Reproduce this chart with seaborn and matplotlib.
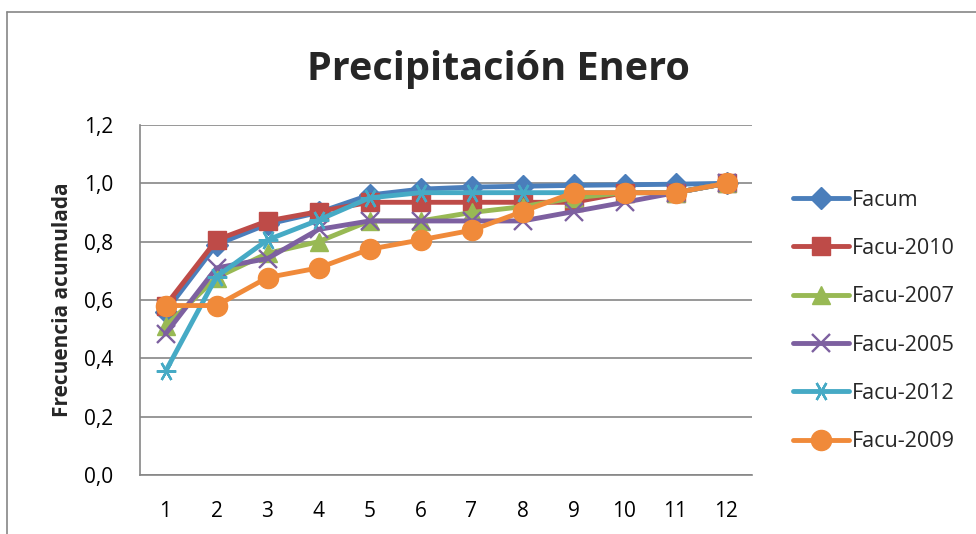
import matplotlib
matplotlib.use("Agg")
import matplotlib.pyplot as plt
from matplotlib.lines import Line2D
import seaborn as sns
import pandas as pd

# Cumulative frequency of January precipitation by class
classes = [1, 2, 3, 4, 5, 6, 7, 8, 9, 10, 11, 12]
facum = [0.56, 0.79, 0.86, 0.90, 0.96, 0.98, 0.987, 0.99, 0.993, 0.995, 0.997, 1.0]
facu_2010 = [0.581, 0.806, 0.871, 0.903, 0.935, 0.935, 0.935, 0.935, 0.935, 0.968, 0.968, 1.0]
facu_2007 = [0.51, 0.677, 0.76, 0.80, 0.871, 0.871, 0.90, 0.92, 0.95, 0.968, 0.968, 1.0]
facu_2005 = [0.484, 0.71, 0.742, 0.842, 0.871, 0.871, 0.871, 0.871, 0.903, 0.935, 0.968, 1.0]
facu_2012 = [0.355, 0.68, 0.806, 0.874, 0.95, 0.968, 0.968, 0.968, 0.968, 0.968, 0.968, 1.0]
facu_2009 = [0.581, 0.581, 0.677, 0.71, 0.774, 0.806, 0.839, 0.903, 0.968, 0.968, 0.968, 1.0]

series_names = ["Facum", "Facu-2010", "Facu-2007", "Facu-2005", "Facu-2012", "Facu-2009"]
series_values = [facum, facu_2010, facu_2007, facu_2005, facu_2012, facu_2009]
y_ticks = [0.0, 0.2, 0.4, 0.6, 0.8, 1.0, 1.2]
y_tick_labels = ["0,0", "0,2", "0,4", "0,6", "0,8", "1,0", "1,2"]

colors = ["#4A7EBB", "#BE4B48", "#98B954", "#7D60A0", "#46AAC5", "#F08A3A"]
markers = ["D", "s", "^", "x", (6, 2, 90), "o"]
marker_sizes = [11, 13, 13, 13, 14, 14.5]
edge_widths = [1, 1, 1, 1.7, 1.7, 1]

rows = []
for name, vals in zip(series_names, series_values):
    for c, v in zip(classes, vals):
        rows.append({"Clase": c, "Frecuencia": v, "Serie": name})
df = pd.DataFrame(rows)

sns.set_theme(style="white")
plt.rcParams["font.family"] = ["Open Sans", "DejaVu Sans"]

fig = plt.figure(figsize=(9.76, 5.34), dpi=100)
ax = fig.add_axes([140 / 976, 59 / 534, 612 / 976, 350 / 534])

handles = []
for i, name in enumerate(series_names):
    sub = df[df["Serie"] == name]
    sns.lineplot(data=sub, x="Clase", y="Frecuencia", ax=ax, color=colors[i],
                 linewidth=3.5, marker=markers[i], markersize=marker_sizes[i],
                 markeredgewidth=edge_widths[i], markeredgecolor=colors[i],
                 label=name, legend=False)
    handles.append(Line2D([0], [0], color=colors[i], linewidth=3.5,
                          marker=markers[i], markersize=marker_sizes[i],
                          markeredgewidth=edge_widths[i], markeredgecolor=colors[i]))

ax.set_xlim(0.5, 12.5)
ax.set_ylim(0, 1.2)
ax.set_xticks(classes)
ax.set_xticklabels([str(c) for c in classes], fontsize=15)
ax.set_yticks(y_ticks)
ax.set_yticklabels(y_tick_labels, fontsize=15)
ax.tick_params(axis="x", length=0, pad=19, colors="black")
ax.tick_params(axis="y", length=0, pad=19, colors="black")
ax.yaxis.grid(True, color="#868686", linewidth=1.2)
ax.xaxis.grid(False)
for side in ["top", "right"]:
    ax.spines[side].set_visible(False)
for side in ["left", "bottom"]:
    ax.spines[side].set_color("#868686")
    ax.spines[side].set_linewidth(1.2)
ax.set_xlabel("")
ax.set_ylabel("Frecuencia acumulada", fontsize=15, fontweight="bold", labelpad=8)

fig.text(498 / 976, 1 - 80 / 534, "Precipitación Enero", ha="center", va="baseline",
         fontsize=28.5, fontweight="bold")

ax.legend(handles, series_names, loc="upper left", bbox_to_anchor=(784 / 976, 1 - 181 / 534),
          bbox_transform=fig.transFigure, frameon=False, fontsize=15.5,
          handlelength=2.6, handletextpad=0.15, labelspacing=1.27, borderaxespad=0)

# Chart area frame
fig.add_artist(Line2D([7 / 976, 7 / 976], [0, 1 - 12 / 534], transform=fig.transFigure,
                      color="#868686", linewidth=1.2))
fig.add_artist(Line2D([7 / 976, 1], [1 - 12 / 534, 1 - 12 / 534], transform=fig.transFigure,
                      color="#868686", linewidth=1.2))

fig.savefig("out.png", dpi=100)
